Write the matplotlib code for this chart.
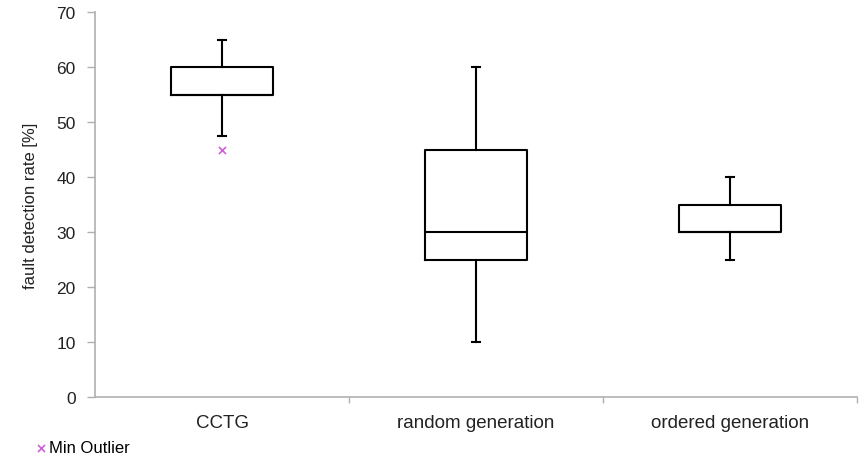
import matplotlib
matplotlib.use('Agg')
import matplotlib.pyplot as plt

plt.rcParams['font.family'] = ['Liberation Sans', 'DejaVu Sans']

# box plot values
categories = ['CCTG', 'random generation', 'ordered generation']
whisker_low = [47.5, 10, 25]
q1 = [55, 25, 30]
median = [55, 30, 30]
q3 = [60, 45, 35]
whisker_high = [65, 60, 40]
min_outliers = [[45], [], []]

stats = []
for i in range(len(categories)):
    stats.append({'label': categories[i], 'whislo': whisker_low[i], 'q1': q1[i],
                  'med': median[i], 'q3': q3[i], 'whishi': whisker_high[i],
                  'fliers': []})

fig = plt.figure(figsize=(8.64, 4.56), dpi=100)
ax = fig.add_axes([0.110, 0.127, 0.882, 0.844])

line = dict(color='black', linewidth=1.5)
ax.bxp(stats, positions=range(len(categories)), widths=0.4, showfliers=False,
       boxprops=line, whiskerprops=line, capprops=line, medianprops=line,
       capwidths=0.03)

# min outliers
for i, vals in enumerate(min_outliers):
    if vals:
        ax.scatter([i] * len(vals), vals, marker='x', color='#d060d8', s=26,
                   linewidths=1.2, zorder=3, label='Min Outlier')

ax.set_xlim(-0.5, len(categories) - 0.5)
ax.set_ylim(0, 70)
ax.set_yticks(range(0, 71, 10))
ax.set_xticks(range(len(categories)))
ax.set_xticklabels(categories)
ax.set_xticks([0.5, 1.5, 2.5], minor=True)
ax.tick_params(axis='x', which='major', length=0, pad=12, labelsize=13.5, labelcolor='#222222')
ax.tick_params(axis='x', which='minor', length=4, color='#b0b0b0', width=1)
ax.tick_params(axis='y', length=6, color='#b0b0b0', width=1, pad=8, labelsize=12.5,
               labelcolor='#222222')

for s in ['top', 'right']:
    ax.spines[s].set_visible(False)
for s in ['left', 'bottom']:
    ax.spines[s].set_color('#b0b0b0')
    ax.spines[s].set_linewidth(1.2)

ax.set_ylabel('fault detection rate [%]', fontsize=12, color='#222222', labelpad=13)

fig.legend(loc='lower left', bbox_to_anchor=(0.026, -0.022), frameon=False,
           fontsize=12, handletextpad=0.0, handlelength=1.0, borderaxespad=0.2)

fig.savefig('out.png', dpi=100)
